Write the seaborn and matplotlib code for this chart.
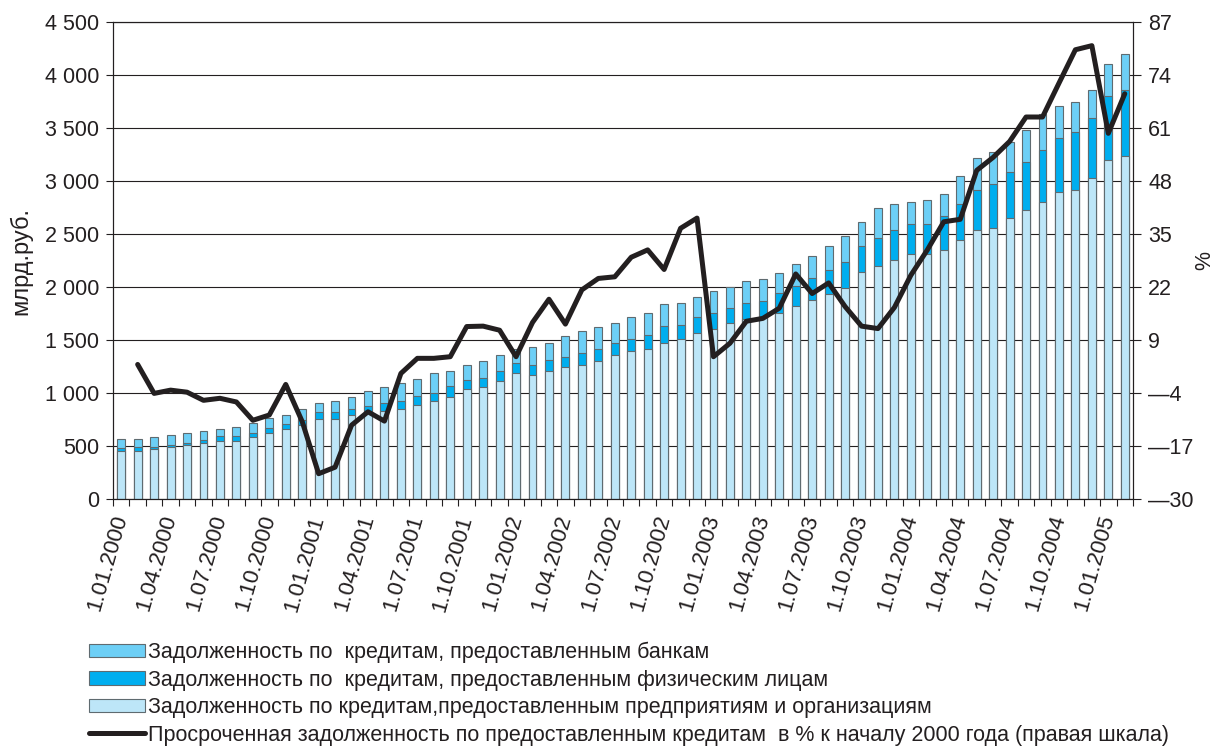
import numpy as np
import pandas as pd
import seaborn as sns
import matplotlib.pyplot as plt
from matplotlib.patches import Patch
from matplotlib.lines import Line2D

# monthly data, 1.01.2000 - 1.02.2005, bln rub
months = pd.date_range("2000-01-01", periods=62, freq="MS")
categories = [f"1.{d.month:02d}.{d.year}" for d in months]

enterprises = [449, 451, 468, 495, 508, 527, 546, 546, 583, 622,
               658, 699, 755, 754, 790, 814, 830, 849, 886, 924,
               964, 1039, 1056, 1113, 1188, 1171, 1210, 1245, 1268, 1302,
               1362, 1396, 1419, 1472, 1513, 1566, 1608, 1661, 1699, 1718,
               1757, 1817, 1873, 1930, 1987, 2137, 2194, 2251, 2307, 2307,
               2345, 2440, 2534, 2553, 2648, 2723, 2799, 2893, 2912, 3026,
               3196, 3234]
individuals = [29, 38, 21, 18, 24, 27, 45, 44, 44, 46,
               47, 46, 62, 63, 63, 63, 79, 79, 82, 75,
               98, 80, 82, 98, 99, 97, 98, 98, 113, 117,
               110, 117, 132, 158, 133, 155, 147, 138, 154, 151,
               188, 194, 208, 226, 245, 246, 265, 283, 284, 284,
               322, 340, 378, 416, 434, 454, 491, 510, 548, 566,
               604, 623]
banks = [91, 80, 99, 93, 93, 90, 73, 92, 91, 95,
         90, 105, 92, 111, 112, 145, 151, 170, 167, 193,
         147, 149, 167, 152, 132, 170, 167, 192, 208, 208,
         192, 208, 208, 205, 207, 189, 208, 202, 208, 208,
         190, 202, 207, 227, 245, 227, 284, 246, 208, 227,
         208, 265, 303, 302, 284, 302, 340, 303, 284, 265,
         303, 340]
# overdue debt, % to the beginning of 2000 (right scale); no value for Jan 2000
overdue = [np.nan, 3.0, -4.1, -3.3, -3.8, -5.8, -5.3, -6.2, -10.7, -9.4,
           -1.9, -11.0, -23.8, -22.2, -11.9, -8.6, -10.9, 0.8, 4.5, 4.5,
           4.9, 12.3, 12.4, 11.4, 4.9, 13.3, 19.0, 12.9, 21.3, 24.1,
           24.5, 29.3, 31.1, 26.3, 36.4, 38.9, 4.9, 8.2, 13.6, 14.3,
           16.8, 25.2, 20.4, 23.0, 17.2, 12.4, 11.8, 17.0, 24.9, 31.1,
           38.0, 38.6, 50.6, 53.8, 57.7, 63.7, 63.7, 72.0, 80.2, 81.2,
           59.7, 69.4]

left_ticks = [0, 500, 1000, 1500, 2000, 2500, 3000, 3500, 4000, 4500]
left_labels = ["0", "500", "1 000", "1 500", "2 000", "2 500", "3 000", "3 500", "4 000", "4 500"]
right_ticks = [-30, -17, -4, 9, 22, 35, 48, 61, 74, 87]
right_labels = ["\u201430", "\u201417", "\u20144", "9", "22", "35", "48", "61", "74", "87"]

labels = ["Задолженность по  кредитам, предоставленным банкам",
          "Задолженность по  кредитам, предоставленным физическим лицам",
          "Задолженность по кредитам,предоставленным предприятиям и организациям",
          "Просроченная задолженность по предоставленным кредитам  в % к началу 2000 года (правая шкала)"]

c_banks = "#6dcff6"
c_ind = "#00aeef"
c_ent = "#bde6f8"
edge = "#5f6b70"
ink = "#231f20"
fs = 15.5

sns.set_style("ticks")
plt.rcParams["font.family"] = ["Liberation Sans", "DejaVu Sans"]

df = pd.DataFrame({"month": categories, "ent": enterprises,
                   "ind": individuals, "banks": banks, "overdue": overdue})
df["lvl2"] = df["ent"] + df["ind"]
df["lvl3"] = df["lvl2"] + df["banks"]

fig, ax = plt.subplots(figsize=(12.15, 7.49), dpi=100)
fig.subplots_adjust(left=0.093, right=0.9325, top=0.9706, bottom=0.3338)

# stacked bars drawn as overlapping cumulative bars
for col, c in [("lvl3", c_banks), ("lvl2", c_ind), ("ent", c_ent)]:
    sns.barplot(data=df, x="month", y=col, color=c, saturation=1, width=0.48,
                edgecolor=edge, linewidth=0.8, errorbar=None, ax=ax)

n = len(df)
ax.set_xlim(-0.5, n - 0.5)
ax.set_ylim(0, 4500)
ax.set_yticks(left_ticks)
ax.set_yticklabels(left_labels, fontsize=fs, color=ink)
ax.set_xticks(np.arange(-0.5, n, 1))
ax.set_xticklabels([])
ax.tick_params(axis="x", length=5, width=0.8, color=ink)
ax.tick_params(axis="y", length=5, width=0.8, color=ink, pad=5)
tick_pos = np.arange(0, n, 3)
ax.set_xticks(tick_pos, minor=True)
ax.set_xticklabels([categories[i] for i in tick_pos], minor=True, rotation=74,
                   ha="right", va="center", rotation_mode="anchor", fontsize=16, color=ink)
ax.tick_params(axis="x", which="minor", length=0, pad=12)
ax.set_xlabel("")
ax.set_ylabel("млрд.руб.", fontsize=17, color=ink)
ax.yaxis.set_label_coords(-0.079, 0.5)
ax.yaxis.grid(True, color=ink, linewidth=0.8)
ax.set_axisbelow(True)
for s in ax.spines.values():
    s.set_color(ink)
    s.set_linewidth(0.8)

ax2 = ax.twinx()
sns.lineplot(x=np.arange(n), y=df["overdue"], color=ink, linewidth=3.6, ax=ax2)
ax2.set_ylim(-30, 87)
ax2.set_yticks(right_ticks)
ax2.set_yticklabels(right_labels, fontsize=fs, color=ink)
ax2.tick_params(axis="y", length=6, width=0.8, color=ink, pad=5)
ax2.set_ylabel("%", fontsize=fs, color=ink)
ax2.yaxis.set_label_coords(1.060, 0.5)
for s in ax2.spines.values():
    s.set_color(ink)
    s.set_linewidth(0.8)

handles = [Patch(facecolor=c_banks, edgecolor=edge, linewidth=0.8),
           Patch(facecolor=c_ind, edgecolor=edge, linewidth=0.8),
           Patch(facecolor=c_ent, edgecolor=edge, linewidth=0.8),
           Line2D([], [], color=ink, linewidth=3.6)]
fig.legend(handles, labels, loc="upper left", bbox_to_anchor=(0.073, 0.143),
           frameon=False, fontsize=15.5, handlelength=2.6, handleheight=0.6,
           handletextpad=0.15, labelspacing=0.3, borderpad=0, borderaxespad=0,
           labelcolor=ink)

fig.savefig("out.png", dpi=100)
